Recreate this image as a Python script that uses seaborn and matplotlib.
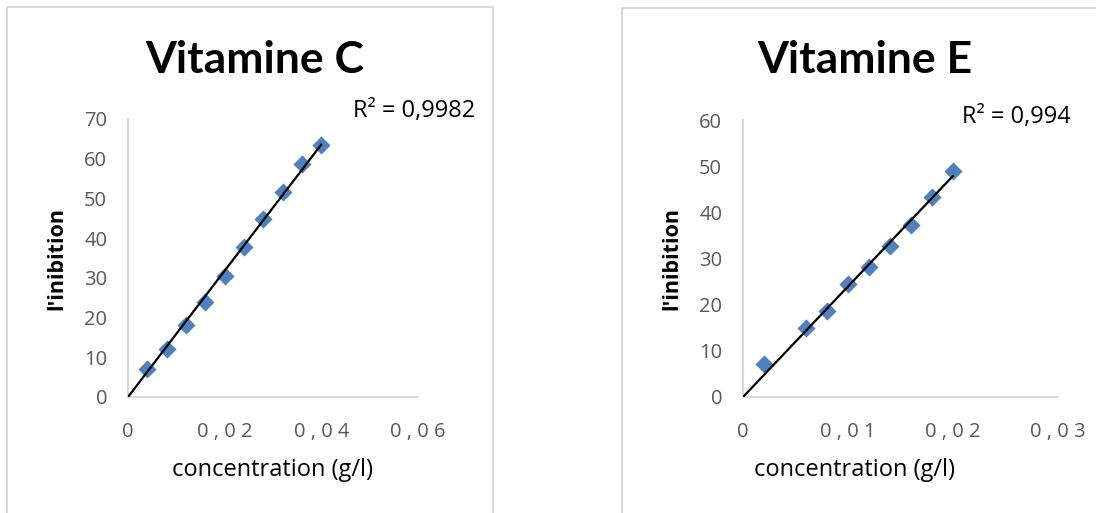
import numpy as np
import pandas as pd
import matplotlib
matplotlib.use("Agg")
import matplotlib.pyplot as plt
from matplotlib.patches import Rectangle
import seaborn as sns

# Vitamine C measurements
conc_c = [0.004, 0.008, 0.012, 0.016, 0.020, 0.024, 0.028, 0.032, 0.036, 0.040]
inhib_c = [7.0, 12.1, 18.1, 24.0, 30.5, 37.7, 44.7, 51.6, 58.6, 63.5]
r2_c = "0,9982"

# Vitamine E measurements
conc_e = [0.002, 0.006, 0.008, 0.010, 0.012, 0.014, 0.016, 0.018, 0.020]
inhib_e = [7.2, 14.9, 18.6, 24.4, 28.2, 32.6, 37.3, 43.4, 49.0]
r2_e = "0,994"

xticks_c = [0, 0.02, 0.04, 0.06]
xtick_labels_c = ["0", "0 , 0 2", "0 , 0 4", "0 , 0 6"]
yticks_c = [0, 10, 20, 30, 40, 50, 60, 70]

xticks_e = [0, 0.01, 0.02, 0.03]
xtick_labels_e = ["0", "0 , 0 1", "0 , 0 2", "0 , 0 3"]
yticks_e = [0, 10, 20, 30, 40, 50, 60]

sns.set_theme(style="white")
plt.rcParams["font.family"] = ["Open Sans", "DejaVu Sans"]

W, H = 1096, 513
fig = plt.figure(figsize=(W / 100, H / 100), dpi=100)

# chart frames
border = "#d9d9d9"
fig.patches.append(Rectangle((7 / W, -0.05), (493 - 7) / W, 1.05 - 7 / H,
                             transform=fig.transFigure, fill=False,
                             edgecolor=border, linewidth=1.5))
fig.patches.append(Rectangle((622 / W, -0.05), 0.5, 1.05 - 8 / H,
                             transform=fig.transFigure, fill=False,
                             edgecolor=border, linewidth=1.5))

blue = "#4F81BD"
tick_gray = "#595959"


def panel(rect, x, y, xlim, ylim, xticks, xlabels, yticks, title, r2,
          title_x, r2_x, r2_y, xlabel_x, ylabel_x):
    ax = fig.add_axes(rect)
    df = pd.DataFrame({"x": x, "y": y})
    # linear trend forced through the origin
    xa, ya = np.asarray(x), np.asarray(y)
    slope = np.sum(xa * ya) / np.sum(xa * xa)
    trend = pd.DataFrame({"x": [0, xa.max()], "y": [0, slope * xa.max()]})
    sns.scatterplot(data=df, x="x", y="y", ax=ax, marker="D", s=85,
                    color=blue, edgecolor=blue, linewidth=0, zorder=2)
    sns.lineplot(data=trend, x="x", y="y", ax=ax, color="black",
                 linewidth=1.6, zorder=3)
    ax.set_xlim(*xlim)
    ax.set_ylim(*ylim)
    ax.set_xticks(xticks)
    ax.set_xticklabels(xlabels)
    ax.set_yticks(yticks)
    ax.tick_params(axis="both", length=0, labelsize=14.5, colors=tick_gray)
    ax.tick_params(axis="x", pad=18)
    ax.tick_params(axis="y", pad=15)
    for s in ["top", "right"]:
        ax.spines[s].set_visible(False)
    for s in ["left", "bottom"]:
        ax.spines[s].set_color(border)
        ax.spines[s].set_linewidth(1.5)
    ax.set_xlabel("concentration (g/l)", fontsize=17, color="black")
    ax.set_ylabel("l'inibition", fontsize=15.5, fontweight="bold",
                  color="black")
    bbox = ax.get_position()
    h_px = bbox.height * H
    w_px = bbox.width * W
    ax.xaxis.set_label_coords(xlabel_x, -61 / h_px)
    ax.yaxis.set_label_coords(ylabel_x / w_px, 0.5)
    fig.text(title_x / W, 1 - 73 / H, title, fontsize=32, fontweight="bold",
             family=["Lato", "DejaVu Sans"],
             ha="center", va="baseline", color="black")
    fig.text(r2_x / W, 1 - r2_y / H, "R² = " + r2, fontsize=17,
             ha="right", va="baseline", color="black")
    return ax


panel([128 / W, 1 - 397 / H, 290 / W, 278 / H], conc_c, inhib_c,
      (0, 0.06), (0, 70), xticks_c, xtick_labels_c, yticks_c,
      "Vitamine C", r2_c, 255, 475, 117, 0.5, -61)
panel([743 / W, 1 - 397 / H, 315 / W, 277 / H], conc_e, inhib_e,
      (0, 0.03), (0, 60), xticks_e, xtick_labels_e, yticks_e,
      "Vitamine E", r2_e, 865, 1071, 123, 112 / 315, -61)

fig.savefig("out.png", dpi=100)
